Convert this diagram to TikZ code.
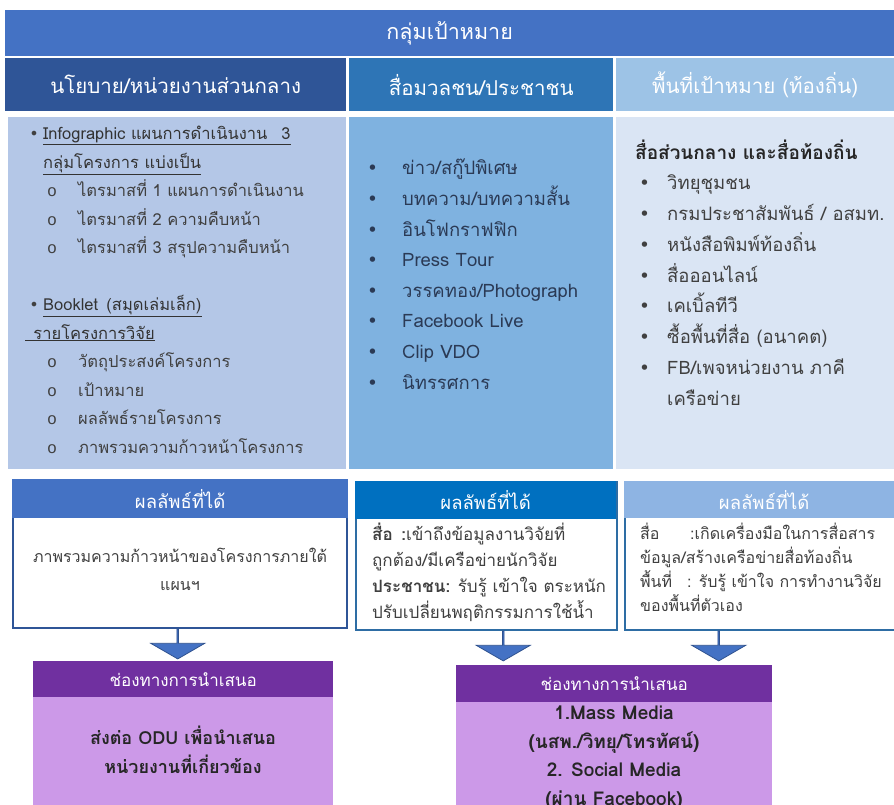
\documentclass[tikz,border=0pt]{standalone}
\usepackage{fontspec}
\setmainfont{Loma}[Script=Thai]
\newfontfamily\dotfont{DejaVu Sans}
\newfontfamily\ringfont{Liberation Mono}
\usetikzlibrary{shapes.arrows}

\definecolor{topblue}{HTML}{4472C4}
\definecolor{navyhead}{HTML}{2F5597}
\definecolor{midhead}{HTML}{2E75B6}
\definecolor{palehead}{HTML}{9DC3E6}
\definecolor{navybody}{HTML}{B4C7E7}
\definecolor{midbody}{HTML}{7FB2E0}
\definecolor{palebody}{HTML}{DAE5F4}
\definecolor{resblue}{HTML}{0070C0}
\definecolor{respale}{HTML}{8EB4E3}
\definecolor{resedge}{HTML}{2E6DA4}
\definecolor{arrowedge}{HTML}{2F528F}
\definecolor{plumhead}{HTML}{7030A0}
\definecolor{plumbody}{HTML}{CC99E8}
\definecolor{inkgray}{HTML}{404040}
\definecolor{inkslate}{HTML}{2B3A55}

\begin{document}
\begin{tikzpicture}[x=1pt, y=-1pt,
	cell/.style={rectangle, inner sep=0, anchor=north west},
	headtext/.style={text=white, font=\fontsize{20.5}{24}\selectfont},
	restext/.style={text=white, font=\fontsize{18.5}{22}\selectfont},
	plumtext/.style={text=white, font=\fontsize{17}{20}\selectfont},
	listtext/.style={inner sep=0, align=left, anchor=base west},
	resbox/.style={cell, fill=white, draw=resedge, line width=1.5pt},
	downarrow/.style={single arrow, draw=arrowedge, fill=topblue, line width=0.8pt,
		minimum height=30, minimum width=54, single arrow head extend=13,
		single arrow tip angle=120, shape border rotate=270, inner sep=0, anchor=tail}]

	\useasboundingbox (0,0) rectangle (894,805);
	\clip (0,0) rectangle (894,805);

	% target groups
	\node[cell, fill=topblue, minimum width=889, minimum height=46, headtext, font=\fontsize{21.5}{24}\selectfont] (goal) at (5,10) {กลุ่มเป้าหมาย};
	\node[cell, fill=navyhead, minimum width=341, minimum height=53, headtext] (h1) at (5,58) {นโยบาย/หน่วยงานส่วนกลาง};
	\node[cell, fill=midhead, minimum width=264, minimum height=53, headtext] (h2) at (349,58) {สื่อมวลชน/ประชาชน};
	\node[cell, fill=palehead, minimum width=278, minimum height=53, headtext] (h3) at (616,58) {พื้นที่เป้าหมาย (ท้องถิ่น)};

	\node[cell, fill=navybody, minimum width=338, minimum height=352] (c1) at (8,117) {};
	\node[cell, fill=midbody, minimum width=264, minimum height=352] (c2) at (349,117) {};
	\node[cell, fill=palebody, minimum width=278, minimum height=352] (c3) at (616,117) {};

	% the base of a list is the baseline of its last line
	\node[listtext, text=inkgray, font=\fontsize{16.5}{28.5}\selectfont] (c1list) at (25,453) {%
		\makebox[18pt][c]{\dotfont\fontsize{16}{16}\selectfont •}{\color{black!80}\underline{Infographic แผนการดำเนินงาน\enspace\ 3}}\\
		\hspace*{18pt}{\color{black!80}\underline{กลุ่มโครงการ แบ่งเป็น}}\\
		\hspace*{22pt}\makebox[31pt][l]{\ringfont o}ไตรมาสที่ 1 แผนการดำเนินงาน\\
		\hspace*{22pt}\makebox[31pt][l]{\ringfont o}ไตรมาสที่ 2 ความคืบหน้า\\
		\hspace*{22pt}\makebox[31pt][l]{\ringfont o}ไตรมาสที่ 3 สรุปความคืบหน้า\\[28.5pt]
		\makebox[18pt][c]{\dotfont\fontsize{16}{16}\selectfont •}{\color{black!80}\underline{Booklet\enspace (สมุดเล่มเล็ก)}}\\
		{\color{black!80}\underline{\enspace รายโครงการวิจัย}}\\
		\hspace*{22pt}\makebox[31pt][l]{\ringfont o}วัตถุประสงค์โครงการ\\
		\hspace*{22pt}\makebox[31pt][l]{\ringfont o}เป้าหมาย\\
		\hspace*{22pt}\makebox[31pt][l]{\ringfont o}ผลลัพธ์รายโครงการ\\
		\hspace*{22pt}\makebox[31pt][l]{\ringfont o}ภาพรวมความก้าวหน้าโครงการ};

	\node[listtext, text=inkslate, font=\fontsize{18.5}{30.6}\selectfont] (c2list) at (367,389) {%
		\makebox[35pt][l]{\dotfont •}ข่าว/สกู๊ปพิเศษ\\
		\makebox[35pt][l]{\dotfont •}บทความ/บทความสั้น\\
		\makebox[35pt][l]{\dotfont •}อินโฟกราฟฟิก\\
		\makebox[35pt][l]{\dotfont •}Press Tour\\
		\makebox[35pt][l]{\dotfont •}วรรคทอง/Photograph\\
		\makebox[35pt][l]{\dotfont •}Facebook Live\\
		\makebox[35pt][l]{\dotfont •}Clip VDO\\
		\makebox[35pt][l]{\dotfont •}นิทรรศการ};

	\node[listtext, text=inkgray, font=\fontsize{18.5}{30.75}\selectfont] (c3list) at (635,405) {%
		{\color{black!85}\bfseries\fontsize{19}{30.75}\selectfont สื่อส่วนกลาง และสื่อท้องถิ่น}\\
		\hspace*{4pt}\makebox[28pt][l]{\dotfont •}วิทยุชุมชน\\
		\hspace*{4pt}\makebox[28pt][l]{\dotfont •}กรมประชาสัมพันธ์ / อสมท.\\
		\hspace*{4pt}\makebox[28pt][l]{\dotfont •}หนังสือพิมพ์ท้องถิ่น\\
		\hspace*{4pt}\makebox[28pt][l]{\dotfont •}สื่อออนไลน์\\
		\hspace*{4pt}\makebox[28pt][l]{\dotfont •}เคเบิ้ลทีวี\\
		\hspace*{4pt}\makebox[28pt][l]{\dotfont •}ซื้อพื้นที่สื่อ (อนาคต)\\
		\hspace*{4pt}\makebox[28pt][l]{\dotfont •}FB/เพจหน่วยงาน ภาคี\\
		\hspace*{32pt}เครือข่าย};

	% outcomes
	\node[resbox, draw=navyhead, minimum width=334, minimum height=148] (r1) at (12,479) {};
	\node[cell, fill=topblue, minimum width=336, minimum height=39, restext] (rh1) at (12,479) {ผลลัพธ์ที่ได้};
	\node[resbox, minimum width=261, minimum height=148] (r2) at (355,481) {};
	\node[cell, fill=resblue, minimum width=261, minimum height=38, restext] (rh2) at (355,481) {ผลลัพธ์ที่ได้};
	\node[resbox, minimum width=280, minimum height=148] (r3) at (624,481) {};
	\node[cell, fill=respale, minimum width=280, minimum height=37, restext] (rh3) at (624,481) {ผลลัพธ์ที่ได้};

	\node[inner sep=0, align=center, anchor=base, text=inkgray, font=\fontsize{16}{28}\selectfont] (r1text) at (180,590) {%
		ภาพรวมความก้าวหน้าของโครงการภายใต้\\แผนฯ};
	\node[listtext, text=inkgray, font=\fontsize{17}{25.7}\selectfont] (r2text) at (372,618) {%
		{\bfseries สื่อ\enspace:}เข้าถึงข้อมูลงานวิจัยที่\\
		ถูกต้อง/มีเครือข่ายนักวิจัย\\
		{\bfseries ประชาชน:} รับรู้ เข้าใจ ตระหนัก\\
		ปรับเปลี่ยนพฤติกรรมการใช้น้ำ};
	\node[listtext, text=inkgray, font=\fontsize{16}{24}\selectfont] (r3text) at (640,611) {%
		\makebox[50pt][l]{สื่อ}:เกิดเครื่องมือในการสื่อสาร\\
		ข้อมูล/สร้างเครือข่ายสื่อท้องถิ่น\\
		\makebox[47pt][l]{พื้นที่}: รับรู้ เข้าใจ การทำงานวิจัย\\
		ของพื้นที่ตัวเอง};

	% presentation channels
	\node[cell, fill=plumbody, minimum width=300, minimum height=160] (p1) at (33,661) {};
	\node[cell, fill=plumhead, minimum width=300, minimum height=36, plumtext] (ph1) at (33,661) {ช่องทางการนำเสนอ};
	\node[cell, fill=plumbody, minimum width=316, minimum height=160] (p2) at (456,665) {};
	\node[cell, fill=plumhead, minimum width=316, minimum height=37, plumtext] (ph2) at (456,665) {ช่องทางการนำเสนอ};

	\node[inner sep=0, align=center, anchor=base, text=black!85, font=\bfseries\fontsize{18}{29}\selectfont] (p1text) at (183,773) {%
		ส่งต่อ ODU เพื่อนำเสนอ\\หน่วยงานที่เกี่ยวข้อง};
	\node[inner sep=0, align=center, anchor=base, text=black!85, font=\bfseries\fontsize{19}{28.4}\selectfont] (p2text) at (614,805) {%
		1.Mass Media\\(นสพ./วิทยุ/โทรทัศน์)\\2. Social Media\\(ผ่าน Facebook)};

	\node[downarrow] (a1) at ([xshift=-2]r1.south) {};
	\node[downarrow] (a2) at ([xshift=17]r2.south) {};
	\node[downarrow] (a3) at ([xshift=-46]r3.south) {};
\end{tikzpicture}
\end{document}
